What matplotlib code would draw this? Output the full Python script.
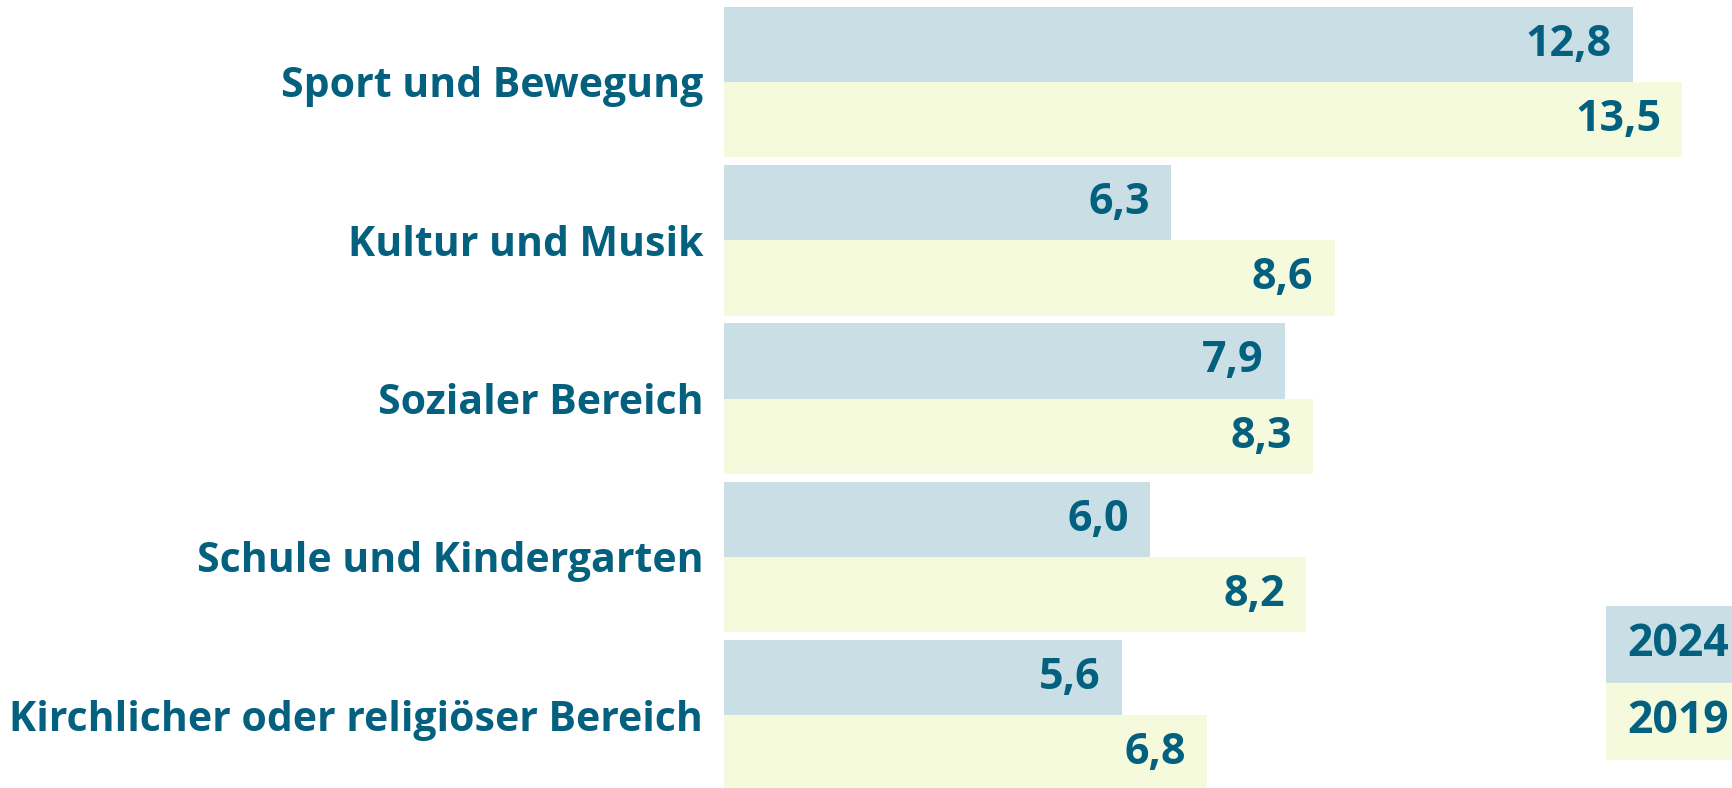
import numpy as np
import matplotlib
matplotlib.use("Agg")
import matplotlib.pyplot as plt
from matplotlib.patches import Rectangle

categories = ["Sport und Bewegung", "Kultur und Musik", "Sozialer Bereich",
              "Schule und Kindergarten", "Kirchlicher oder religiöser Bereich"]
values_2024 = [12.8, 6.3, 7.9, 6.0, 5.6]
values_2019 = [13.5, 8.6, 8.3, 8.2, 6.8]
series_names = ["2024", "2019"]

c_2024 = "#cadee5"
c_2019 = "#f4fadb"
c_text = "#04607f"

plt.rcParams['font.family'] = ['Open Sans', 'DejaVu Sans']

W, H = 1733, 788
fig = plt.figure(figsize=(W / 100, H / 100), dpi=100)
left = 724 / W
ax = fig.add_axes([left, 0, 1 - left, 1])

y = np.arange(len(categories))
h = 0.476
ax.barh(y - h / 2, values_2024, height=h, color=c_2024)
ax.barh(y + h / 2, values_2019, height=h, color=c_2019)

pitch = 158.3  # pixels per category
top = -h - 6.6 / pitch
ax.set_xlim(0, (W - 724) / 71.0)
ax.set_ylim(top + H / pitch, top)

def fmt(v):
    return f"{v:.1f}".replace(".", ",")

off = 0.3
for yi, v in zip(y - h / 2, values_2024):
    ax.text(v - off, yi, fmt(v), ha="right", va="center", fontsize=31,
            fontweight="bold", color=c_text)
for yi, v in zip(y + h / 2, values_2019):
    ax.text(v - off, yi, fmt(v), ha="right", va="center", fontsize=31,
            fontweight="bold", color=c_text)

ax.set_yticks(y)
ax.set_yticklabels(categories, fontsize=29.5, fontweight="bold", color=c_text)
ax.tick_params(axis="y", length=0, pad=15)
ax.set_xticks([])
for s in ax.spines.values():
    s.set_visible(False)

# legend boxes
lax = fig.add_axes([1606 / W, 28 / H, 127 / W, 154 / H])
lax.set_xlim(0, 1)
lax.set_ylim(0, 2)
lax.axis("off")
lax.add_patch(Rectangle((0, 1), 1, 1, color=c_2024))
lax.add_patch(Rectangle((0, 0), 1, 1, color=c_2019))
lax.text(0.17, 1.5, series_names[0], ha="left", va="center", fontsize=32,
         fontweight="bold", color=c_text)
lax.text(0.17, 0.5, series_names[1], ha="left", va="center", fontsize=32,
         fontweight="bold", color=c_text)

fig.savefig("out.png", dpi=100)
